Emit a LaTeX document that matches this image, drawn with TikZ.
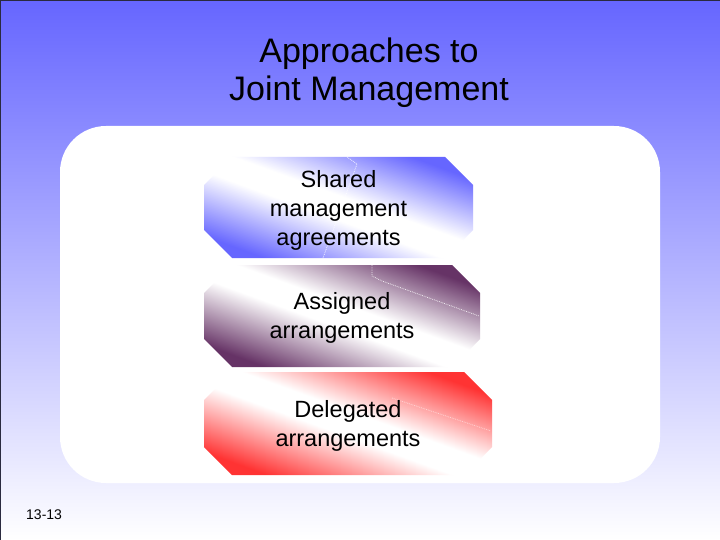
\documentclass[tikz,border=0pt]{standalone}
\usepackage{fontspec}
\setmainfont{Liberation Sans}
\usepackage{tikz}
\usetikzlibrary{positioning}
\definecolor{slidetop}{HTML}{6666FF}
\definecolor{sharedband}{HTML}{6666FF}
\definecolor{assignedband}{HTML}{663366}
\definecolor{delegatedband}{HTML}{FF3333}
\definecolor{slideframe}{HTML}{2A2A40}

\pgfdeclarehorizontalshading{sharedshade}{100bp}{color(0bp)=(sharedband); color(25bp)=(sharedband); color(46bp)=(white); color(54bp)=(white); color(75bp)=(sharedband); color(100bp)=(sharedband)}
\pgfdeclarehorizontalshading{assignedshade}{100bp}{color(0bp)=(assignedband); color(25bp)=(assignedband); color(46bp)=(white); color(54bp)=(white); color(75bp)=(assignedband); color(100bp)=(assignedband)}
\pgfdeclarehorizontalshading{delegatedshade}{100bp}{color(0bp)=(delegatedband); color(25bp)=(delegatedband); color(46bp)=(white); color(54bp)=(white); color(75bp)=(delegatedband); color(100bp)=(delegatedband)}

% octagon with 28pt cut corners: left, top, right, bottom
\newcommand{\cutbox}[4]{(#1+28,#2) -- (#3-28,#2) -- (#3,#2+28) -- (#3,#4-28) -- (#3-28,#4) -- (#1+28,#4) -- (#1,#4-28) -- (#1,#2+28) -- cycle}

\begin{document}
\begin{tikzpicture}[
    x=1pt, y=-1pt,
    approach/.style={shading angle=70},
    approachtext/.style={font=\fontsize{23.5}{29}\selectfont, align=center, inner sep=0pt},
    headline/.style={font=\fontsize{34}{38}\selectfont, align=center, inner sep=0pt},
    pagenum/.style={font=\fontsize{14}{16}\selectfont, inner sep=0pt, anchor=west},
    trace/.style={white, densely dotted, line width=0.8pt, opacity=0.8}
]
\useasboundingbox (0,0) rectangle (720,540);

% Slide background
\fill[top color=slidetop, bottom color=white] (0,0) rectangle (720,540);
\draw[slideframe, line width=1pt] (0.5,540) -- (0.5,0.5) -- (720,0.5);

% White panel
\fill[white, rounded corners=46pt] (60,126) rectangle (660,483);

% Title
\node[headline] (title) at (369,73) {Approaches to\\Joint Management};

% Approach boxes
\path[approach, shading=sharedshade] \cutbox{204}{157}{473}{258};
\path[approach, shading=assignedshade] \cutbox{204}{265}{480}{367};
\path[approach, shading=delegatedshade] \cutbox{204}{372}{492}{475};

% Faint guide traces
\draw[trace] (347,157) -- (357,164) -- (323,258);
\draw[trace] (372,265) -- (372,276) -- (382,281) -- (479,316);
\draw[trace, opacity=0.5] (392,398) -- (491,431);

% Approach labels
\node[approachtext] (shared) at (338.5,210.5) {Shared\\management\\agreements};
\node[approachtext] (assigned) at (342,318) {Assigned\\arrangements};
\node[approachtext] (delegated) at (348,426) {Delegated\\arrangements};

% Slide number
\node[pagenum] (page) at (26,515) {13-13};

\end{tikzpicture}
\end{document}
